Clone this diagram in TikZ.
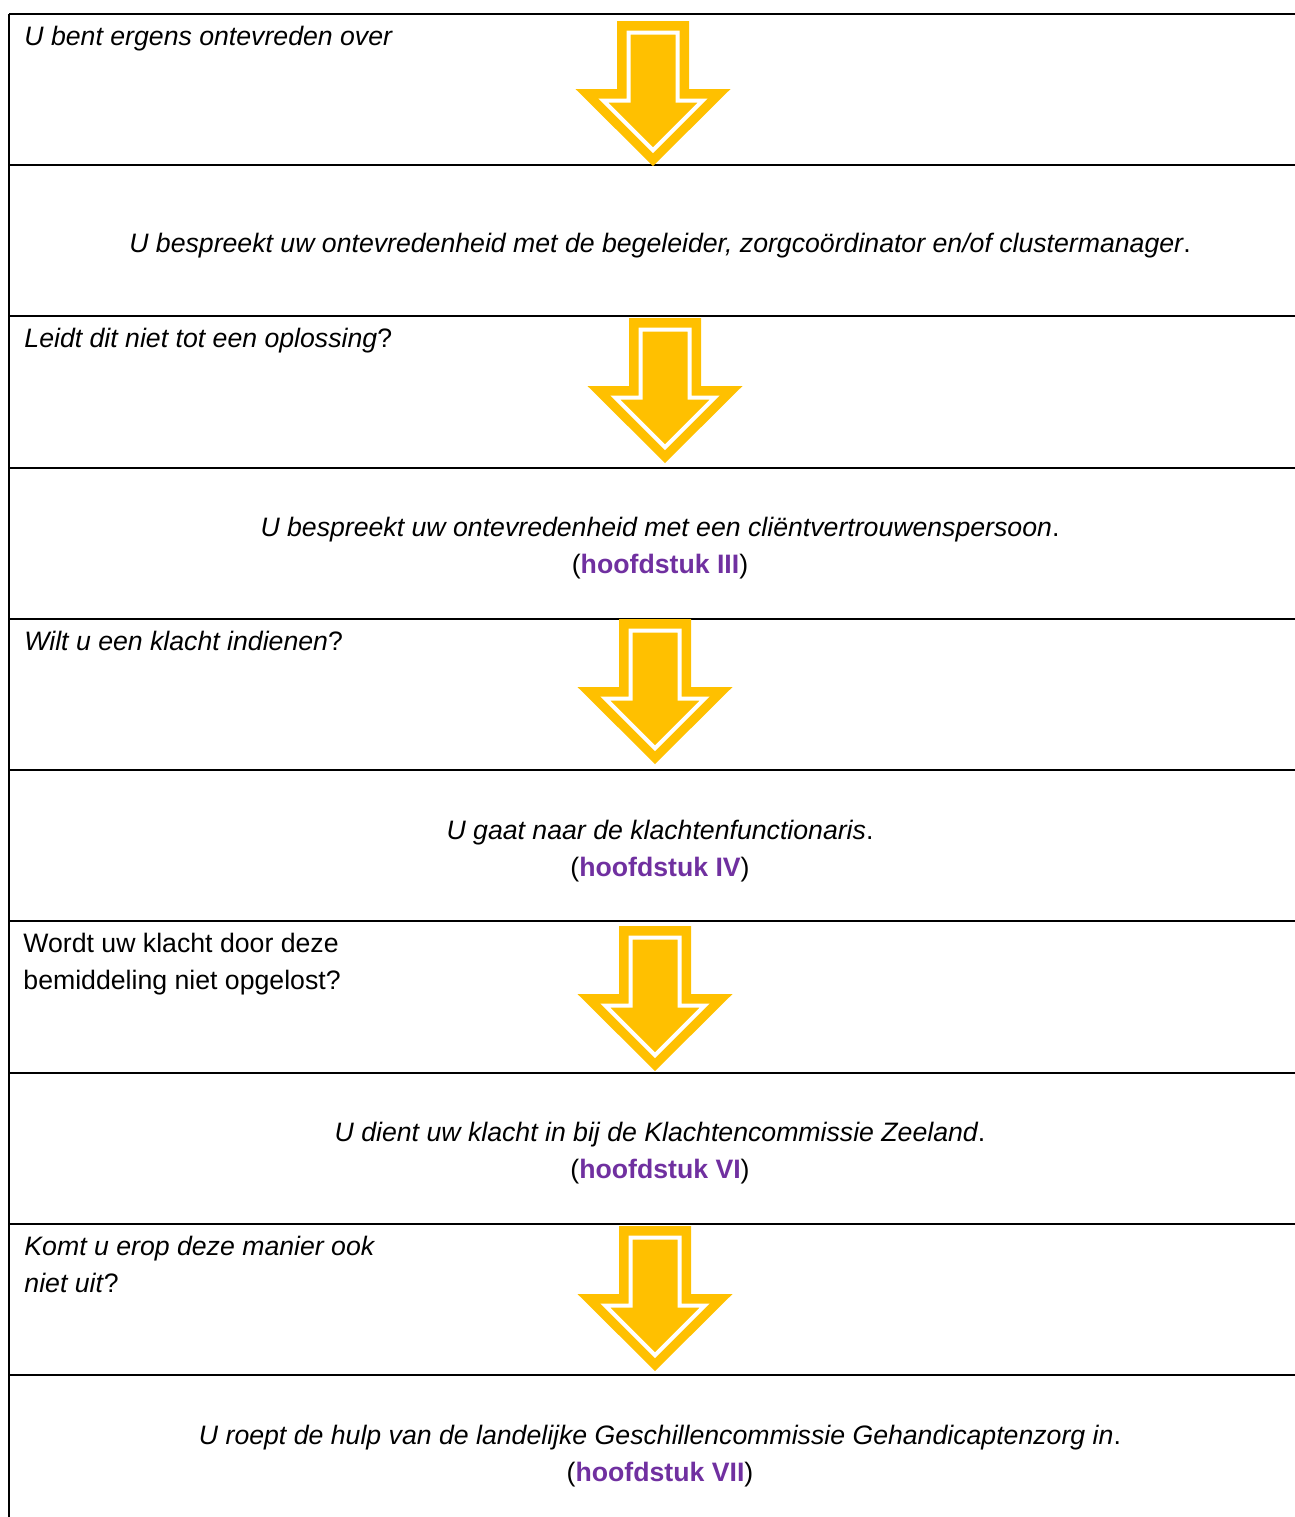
\documentclass[tikz,border=0pt]{standalone}
\usepackage{fontspec}
\setmainfont{Liberation Sans}
\usepackage{xcolor}
\usetikzlibrary{positioning}
\definecolor{chapter}{HTML}{7030A0}
\definecolor{gold}{HTML}{FFC000}
\newcommand{\hfdst}[1]{(\textcolor{chapter}{\textbf{hoofdstuk #1}})}

\begin{document}
\begin{tikzpicture}[ x=0.45pt, y=-0.45pt
                   , font=\fontsize{12}{16.65}\selectfont
                   , rule/.style={line width=0.9pt}
                   , question/.style={anchor=base west, inner sep=0pt, align=left}
                   , answer/.style={anchor=base, inner sep=0pt, align=center}
                   ]
      \useasboundingbox (0,0) rectangle (1295,1517);

      % table rules
      \foreach \ry in {14,165,316,468,619,770,921,1073,1224,1375}
        \draw [rule] (9,\ry) -- (1295,\ry);
      \draw [rule] (9,14) -- (9,1517);

      % arrows
      \foreach \ax/\ay in {653/21, 665/318, 655/619, 655/926, 655/1226} {
        \fill [gold] (\ax-36,\ay) -- (\ax+36,\ay) -- (\ax+36,\ay+68)
                     -- (\ax+77.5,\ay+68) -- (\ax,\ay+145) -- (\ax-77.5,\ay+68)
                     -- (\ax-36,\ay+68) -- cycle;
        \draw [white, line width=1.8pt, line join=miter]
                     (\ax-24.5,\ay+11.5) -- (\ax+24.5,\ay+11.5) -- (\ax+24.5,\ay+79.5)
                     -- (\ax+49.7,\ay+79.5) -- (\ax,\ay+129.2) -- (\ax-49.7,\ay+79.5)
                     -- (\ax-24.5,\ay+79.5) -- cycle;
      }

      % questions (base = last line)
      \node (q1) [question] at (24,45) {\textit{U bent ergens ontevreden over}};
      \node (q2) [question] at (24,347) {\textit{Leidt dit niet tot een oplossing}?};
      \node (q3) [question] at (24,650) {\textit{Wilt u een klacht indienen}?};
      \node (q4) [question] at (23,989) {Wordt uw klacht door deze\\bemiddeling niet opgelost?};
      \node (q5) [question] at (24,1292) {\textit{Komt u erop deze manier ook}\\\textit{niet uit}?};

      % answers
      \node (a1) [answer] at (660,252)
            {\textit{U bespreekt uw ontevredenheid met de begeleider, zorgcoördinator en/of clustermanager}.};
      \node (a2) [answer] at (660,573)
            {\textit{U bespreekt uw ontevredenheid met een cliëntvertrouwenspersoon}.\\\hfdst{III}};
      \node (a3) [answer] at (660,876)
            {\textit{U gaat naar de klachtenfunctionaris}.\\\hfdst{IV}};
      \node (a4) [answer] at (660,1178)
            {\textit{U dient uw klacht in bij de Klachtencommissie Zeeland}.\\\hfdst{VI}};
      \node (a5) [answer] at (660,1481)
            {\textit{U roept de hulp van de landelijke Geschillencommissie Gehandicaptenzorg in}.\\\hfdst{VII}};

\end{tikzpicture}
\end{document}
